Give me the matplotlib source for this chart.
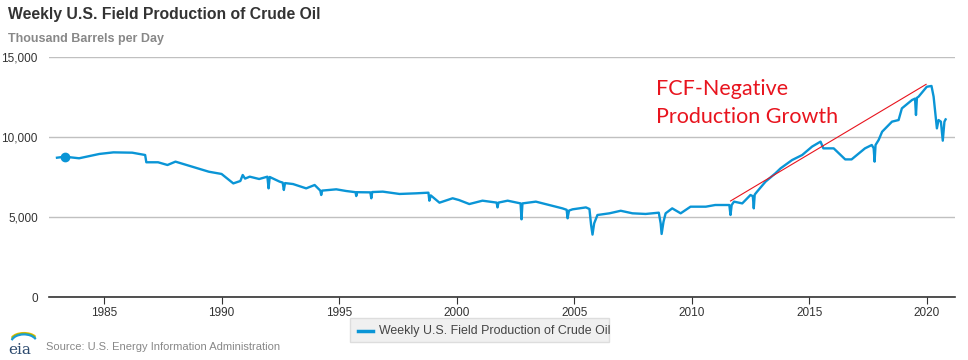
import matplotlib as mpl
mpl.use('Agg')
import matplotlib.pyplot as plt
from matplotlib.patches import FancyBboxPatch, Arc

plt.rcParams['font.family'] = ['Liberation Sans', 'DejaVu Sans']

# weekly production, thousand barrels per day
years = [1983.00, 1983.33, 1983.94, 1984.8, 1985.4, 1986.2, 1986.75, 1986.8, 1987.3, 1987.7,
         1988.04, 1988.75, 1989.46, 1990.0, 1990.5, 1990.8, 1990.9, 1991.0, 1991.2, 1991.6,
         1991.95, 1992.0, 1992.05, 1992.47, 1992.6, 1992.65, 1992.7, 1993.04, 1993.6, 1993.96,
         1994.2, 1994.24, 1994.28, 1994.88, 1995.3, 1995.7, 1995.73, 1995.77, 1996.33, 1996.37,
         1996.41, 1996.86, 1997.57, 1998.28, 1998.8, 1998.84, 1998.9, 1999.27, 1999.83, 2000.1,
         2000.54, 2001.1, 2001.7, 2001.74, 2001.78, 2002.17, 2002.72, 2002.76, 2002.8, 2003.37,
         2003.94, 2004.5, 2004.68, 2004.72, 2004.78, 2004.93, 2005.5, 2005.65, 2005.72, 2005.78,
         2005.85, 2005.99, 2006.5, 2006.98, 2007.48, 2008.04, 2008.6, 2008.68, 2008.72, 2008.8,
         2008.89, 2009.17, 2009.53, 2009.95, 2010.6, 2011.0, 2011.6, 2011.65, 2011.7, 2011.8,
         2012.15, 2012.5, 2012.6, 2012.64, 2012.68, 2012.78, 2013.14, 2013.56, 2013.78, 2014.27,
         2014.7, 2015.12, 2015.48, 2015.6, 2016.04, 2016.53, 2016.8, 2017.37, 2017.66, 2017.74,
         2017.78, 2017.82, 2017.95, 2018.1, 2018.52, 2018.8, 2018.94, 2019.37, 2019.5, 2019.54,
         2019.58, 2019.65, 2020.0, 2020.2, 2020.29, 2020.43, 2020.5, 2020.6, 2020.68, 2020.75,
         2020.8]
production = [8706, 8770, 8670, 8940, 9040, 9020, 8875, 8420, 8420, 8250,
              8460, 8145, 7830, 7690, 7100, 7250, 7625, 7400, 7520, 7375,
              7520, 6790, 7500, 7210, 7150, 6690, 7120, 7060, 6790, 7000,
              6650, 6375, 6650, 6730, 6625, 6550, 6310, 6550, 6540, 6170,
              6560, 6585, 6440, 6480, 6520, 6020, 6350, 5895, 6170, 6060,
              5810, 6020, 5900, 5600, 5900, 6020, 5850, 4855, 5850, 5960,
              5750, 5540, 5450, 4920, 5400, 5480, 5600, 5500, 4500, 3900,
              4600, 5125, 5230, 5390, 5230, 5190, 5270, 4600, 3940, 4700,
              5230, 5540, 5230, 5645, 5645, 5750, 5750, 5125, 5750, 5960,
              5850, 6375, 6300, 5540, 6400, 6585, 7210, 7730, 8040, 8560,
              8875, 9400, 9710, 9290, 9290, 8600, 8600, 9290, 9500, 9300,
              8460, 9500, 9810, 10330, 10960, 11060, 11790, 12310, 12400, 11375,
              12450, 12520, 13140, 13190, 12520, 10540, 11060, 10960, 9770, 10960,
              11100]
marker_year = 1983.33
marker_value = 8770

trend_years = [2011.65, 2019.97]
trend_values = [6000, 13290]

xticks = [1985, 1990, 1995, 2000, 2005, 2010, 2015, 2020]
yticks = [0, 5000, 10000, 15000]

blue = '#0a95d6'
fig = plt.figure(figsize=(9.68, 3.6), dpi=100)
ax = fig.add_axes([49/968, 63/360, 906/968, 240/360])

ax.plot(years, production, color=blue, lw=1.7, solid_joinstyle='round')
ax.plot([marker_year], [marker_value], 'o', color=blue, ms=6)
ax.plot(trend_years, trend_values, color='#e8141e', lw=0.8)

ax.set_xlim(1982.66, 2021.2)
ax.set_ylim(0, 15000)
ax.set_xticks(xticks)
ax.set_yticks(yticks)
ax.set_yticklabels(['{:,}'.format(v) for v in yticks])
ax.grid(axis='y', color='#c0c0c0', lw=1)
ax.set_axisbelow(True)
for s in ['top', 'right', 'left']:
    ax.spines[s].set_visible(False)
ax.spines['bottom'].set_color('#333333')
ax.spines['bottom'].set_linewidth(1.2)
ax.tick_params(axis='y', length=0, labelsize=8.5, labelcolor='#333333', pad=8)
ax.tick_params(axis='x', length=5, color='#333333', labelsize=8.5, labelcolor='#333333', pad=2)

ax.text(2008.48, 13650, 'FCF-Negative\nProduction Growth', color='#e8141e',
        fontsize=15.5, family='Lato', linespacing=1.5, va='top')

fig.text(8/968, 1 - 15/360, 'Weekly U.S. Field Production of Crude Oil', fontsize=11.3,
         weight='bold', color='#333333', va='center')
fig.text(8/968, 1 - 39/360, 'Thousand Barrels per Day', fontsize=9,
         weight='bold', color='#888888', va='center')

# legend box
fig.patches.append(FancyBboxPatch((350/968, 1 - 342/360), 259/968, 24/360,
                                  boxstyle='square,pad=0', transform=fig.transFigure,
                                  facecolor='#f0f0f0', edgecolor='#dddddd', lw=1))
fig.lines.append(plt.Line2D([358/968, 373/968], [1 - 331/360] * 2, color=blue, lw=2.5,
                            transform=fig.transFigure))
fig.text(379/968, 1 - 331/360, 'Weekly U.S. Field Production of Crude Oil', fontsize=8.9,
         color='#444444', va='center')

# source line with a rough eia mark
fig.text(46/968, 1 - 347/360, 'Source: U.S. Energy Information Administration', fontsize=8,
         color='#888888', va='center')
fig.text(8/968, 1 - 350/360, 'eia', fontsize=11, family='DejaVu Serif', color='#2c4a6e', va='center')
for c, r in [('#f5b800', 0.0), ('#79b829', 0.004), ('#1a9ad6', 0.008)]:
    fig.patches.append(Arc((24/968, 1 - 340/360 - r), 26/968, 14/360 + r, theta1=40, theta2=150,
                           transform=fig.transFigure, color=c, lw=1.5))

fig.savefig('out.png', dpi=100)
